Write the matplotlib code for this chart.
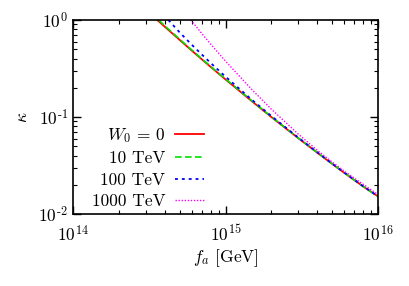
import matplotlib
matplotlib.use("Agg")
import matplotlib.pyplot as plt
from matplotlib.ticker import LogLocator, FixedLocator, NullFormatter

plt.rcParams['font.family'] = ['cmr10', 'DejaVu Serif']
plt.rcParams['mathtext.fontset'] = 'cm'
plt.rcParams['axes.formatter.use_mathtext'] = True

# data
fa_red = [3.57e14, 4e14, 5e14, 6e14, 7e14, 8e14, 1e15, 1.5e15, 2e15, 3e15, 4e15, 5e15, 6e15, 8e15, 1e16]
k_red = [1.0, 0.852, 0.624, 0.485, 0.393, 0.328, 0.244, 0.144, 0.0998, 0.0605, 0.0428, 0.0329, 0.0266, 0.0192, 0.0152]

fa_green = [3.65e14, 4e14, 5e14, 6e14, 7e14, 8e14, 1e15, 1.5e15, 2e15, 3e15, 4e15, 5e15, 6e15, 8e15, 1e16]
k_green = [1.0, 0.87, 0.635, 0.492, 0.398, 0.332, 0.247, 0.1455, 0.1005, 0.0608, 0.0430, 0.0330, 0.0267, 0.0192, 0.0151]

fa_blue = [4.22e14, 5e14, 6e14, 7e14, 8e14, 1e15, 1.5e15, 2e15, 3e15, 4e15, 5e15, 6e15, 8e15, 1e16]
k_blue = [1.0, 0.746, 0.557, 0.440, 0.360, 0.2606, 0.149, 0.1023, 0.0614, 0.0432, 0.0331, 0.0268, 0.0193, 0.0152]

fa_mag = [5.92e14, 7e14, 8e14, 1e15, 1.5e15, 2e15, 3e15, 4e15, 5e15, 6e15, 8e15, 1e16]
k_mag = [1.0, 0.724, 0.564, 0.377, 0.1895, 0.1203, 0.0667, 0.0454, 0.0344, 0.0277, 0.0202, 0.0159]

labels = [r'$W_0\,=\,0$', '10 TeV', '100 TeV', '1000 TeV']
xticks = [1e14, 1e15, 1e16]
xticklabels = [r'$10^{14}$', r'$10^{15}$', r'$10^{16}$']
yticks = [1e-2, 1e-1, 1e0]
yticklabels = [r'$10^{\text{-}2}$', r'$10^{\text{-}1}$', r'$10^{0}$']

fig = plt.figure(figsize=(4.09, 2.86), dpi=100)
ax = fig.add_axes([73/409, 1-214/286, 305/409, 194/286])

ax.plot(fa_red, k_red, color='#ff0000', lw=1.3, ls='-', label=labels[0])
ax.plot(fa_green, k_green, color='#00e000', lw=1.2, ls=(0, (4, 2)), label=labels[1])
ax.plot(fa_blue, k_blue, color='#0000ff', lw=1.3, ls=(0, (1.6, 2.2)), label=labels[2])
ax.plot(fa_mag, k_mag, color='#ff00ff', lw=1.0, ls=(0, (1, 1.2)), label=labels[3])

ax.set_xscale('log')
ax.set_yscale('log')
ax.set_xlim(1e14, 1e16)
ax.set_ylim(1e-2, 1e0)
ax.xaxis.set_major_locator(FixedLocator(xticks))
ax.set_xticklabels(xticklabels)
ax.yaxis.set_major_locator(FixedLocator(yticks))
ax.set_yticklabels(yticklabels)
ax.xaxis.set_minor_locator(LogLocator(base=10, subs=range(2, 10)))
ax.yaxis.set_minor_locator(LogLocator(base=10, subs=range(2, 10)))
ax.xaxis.set_minor_formatter(NullFormatter())
ax.yaxis.set_minor_formatter(NullFormatter())
ax.tick_params(which='both', direction='in', top=True, right=True, labelsize=12.5)
ax.tick_params(which='major', length=6, width=1)
ax.tick_params(which='minor', length=3, width=0.8)
ax.tick_params(axis='x', which='major', pad=7)
for s in ax.spines.values():
    s.set_linewidth(1.2)

ax.set_xlabel(r'$f_a$ [GeV]', fontsize=12.5, labelpad=2)
ax.set_ylabel(r'$\kappa$', fontsize=12.5, labelpad=6)

leg = ax.legend(loc='lower right', bbox_to_anchor=(0.43, 0.025), frameon=False,
                markerfirst=False, fontsize=12.5, handlelength=1.67, handletextpad=0.57,
                labelspacing=0.35, borderpad=0.0, borderaxespad=0.0)

fig.savefig('out.png', dpi=100)
